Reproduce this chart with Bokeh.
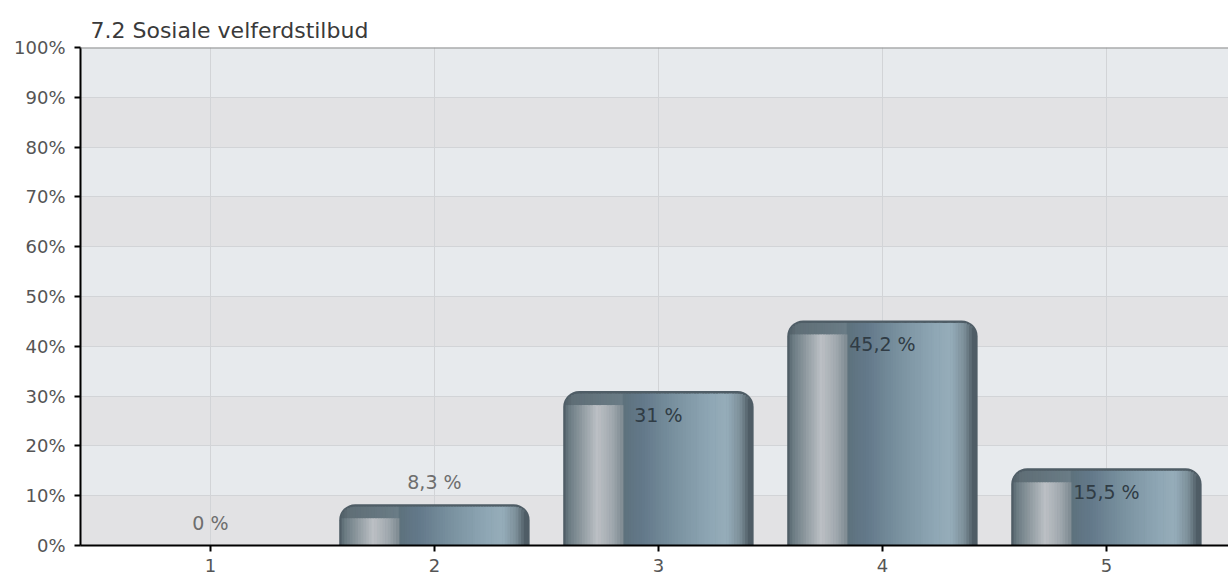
from bokeh.plotting import figure
from bokeh.models import FixedTicker, BoxAnnotation, Span, ColumnDataSource
from bokeh.core.properties import value
from bokeh.embed import file_html
from bokeh.resources import INLINE
import math

# --- data -------------------------------------------------------------
categories = ["1", "2", "3", "4", "5"]
shares = [0.0, 8.3, 31.0, 45.2, 15.5]
value_labels = ["0 %", "8,3 %", "31 %", "45,2 %", "15,5 %"]
y_ticks = [0, 10, 20, 30, 40, 50, 60, 70, 80, 90, 100]
y_tick_labels = ["0%", "10%", "20%", "30%", "40%", "50%", "60%", "70%", "80%", "90%", "100%"]
title = "7.2 Sosiale velferdstilbud"

# --- layout -----------------------------------------------------------
W, H = 1228, 581
LEFT, TOP, BOTTOM = 80, 47, 36
X0, X1 = 0.42, 5.545
FRAME_W = W - LEFT
FRAME_H = H - TOP - BOTTOM
PX_X = FRAME_W / (X1 - X0)      # pixels per x unit
PX_Y = FRAME_H / 100.0          # pixels per percent
BAR_W = 0.85
RADIUS = 16                     # px
FONT = "DejaVu Sans"

positions = list(range(1, len(categories) + 1))

p = figure(width=W, height=H, x_range=(X0, X1), y_range=(0, 100),
           output_backend="svg", toolbar_location=None,
           min_border_left=LEFT, min_border_right=0,
           min_border_top=TOP, min_border_bottom=BOTTOM)

p.title.text = title
p.title.text_font = FONT
p.title.text_font_size = "22px"
p.title.text_font_style = "normal"
p.title.text_color = "#3a3a3a"
p.title.offset = 10
p.title.standoff = 9

p.background_fill_color = "#e7eaed"
p.border_fill_color = "white"
p.outline_line_color = None

# alternating darker bands between gridlines
for lo, hi in zip(y_ticks[0::2], y_ticks[1::2]):
    p.add_layout(BoxAnnotation(bottom=lo, top=hi, fill_color="#e2e2e4",
                               fill_alpha=1.0, line_color=None, level="image"))

p.xgrid.ticker = FixedTicker(ticks=positions)
p.ygrid.ticker = FixedTicker(ticks=y_ticks)
p.xgrid.grid_line_color = "#d2d4d7"
p.ygrid.grid_line_color = "#d2d4d7"
p.xgrid.grid_line_width = 1
p.ygrid.grid_line_width = 1

# top frame line
p.add_layout(Span(location=100, dimension="width", line_color="#8c8c8c",
                  line_width=2, level="overlay"))

# axes
p.yaxis.ticker = FixedTicker(ticks=y_ticks)
p.yaxis.major_label_overrides = {t: s for t, s in zip(y_ticks, y_tick_labels)}
p.xaxis.ticker = FixedTicker(ticks=positions)
p.xaxis.major_label_overrides = {t: s for t, s in zip(positions, categories)}
for ax in (p.xaxis, p.yaxis):
    ax.axis_line_color = "black"
    ax.axis_line_width = 2
    ax.major_tick_line_color = "black"
    ax.major_tick_line_width = 2
    ax.major_tick_in = 0
    ax.major_tick_out = 6
    ax.minor_tick_line_color = None
    ax.major_label_text_font = FONT
    ax.major_label_text_font_size = "18px"
    ax.major_label_text_color = "#555555"
p.yaxis.major_label_standoff = 9
p.xaxis.major_label_standoff = 7


# --- shaded cylinder bars ----------------------------------------------
def hex_to_rgb(h):
    h = h.lstrip("#")
    return tuple(int(h[i:i + 2], 16) for i in (0, 2, 4))


def gradient(stops, f):
    for (f0, c0), (f1, c1) in zip(stops, stops[1:]):
        if f0 <= f <= f1:
            t = 0 if f1 == f0 else (f - f0) / (f1 - f0)
            a, b = hex_to_rgb(c0), hex_to_rgb(c1)
            r = [round(a[k] + (b[k] - a[k]) * t) for k in range(3)]
            return "#%02x%02x%02x" % tuple(r)
    return stops[-1][1]


SPLIT = 0.31
body_stops = [(0.0, "#4c5a62"), (0.04, "#56666e"), (0.31, "#5d717c"),
              (0.42, "#63798a"), (0.60, "#7b93a1"), (0.77, "#8ea6b4"),
              (0.86, "#96adba"), (0.93, "#7d909a"), (0.98, "#4e5c64"),
              (1.0, "#47555d")]
cap_stops = [(0.0, "#4c5a62"), (0.05, "#5f6e76"), (0.31, "#6a7c86")]
light_stops = [(0.0, "#4c5a62"), (0.03, "#6a7a82"), (0.09, "#8a969c"),
               (0.18, "#bcc0c5"), (0.26, "#a0a8ae"), (0.31, "#808c94")]

N = 70
strip_w = BAR_W / N * 1.25
bar_px = BAR_W * PX_X
cap_px = 14

body = dict(x=[], top=[], color=[])
light = dict(x=[], top=[], color=[])
for pos, v in zip(positions, shares):
    if v <= 0:
        continue
    for i in range(N):
        f = (i + 0.5) / N
        if f < 0.015 or f > 0.985:
            continue
        d = min(f, 1 - f) * bar_px
        dy = 0.0
        if d < RADIUS:
            dy = RADIUS - math.sqrt(RADIUS ** 2 - (RADIUS - d) ** 2)
        x = pos + (f - 0.5) * BAR_W
        top = v - (dy + 2.5) / PX_Y
        if top > 0:
            body["x"].append(x)
            body["top"].append(top)
            body["color"].append(gradient(cap_stops, f) if f < SPLIT
                                 else gradient(body_stops, f))
        if f < SPLIT:
            ltop = v - max(cap_px, dy + 3) / PX_Y
            if ltop > 0:
                light["x"].append(x)
                light["top"].append(ltop)
                light["color"].append(gradient(light_stops, f))

# outer shell of each bar, rounded at the top
p.vbar(x=positions, top=shares, width=BAR_W, bottom=0,
       fill_color="#4f5d66", line_color=None,
       border_radius=(RADIUS, RADIUS, 0, 0))
p.vbar(x="x", top="top", bottom=0, width=strip_w, fill_color="color",
       line_color=None, source=ColumnDataSource(body))
p.vbar(x="x", top="top", bottom=0, width=strip_w, fill_color="color",
       line_color=None, source=ColumnDataSource(light))

# value labels: inside tall bars, above short ones
OFF = 24 / PX_Y
lab = dict(x=[], y=[], text=[], color=[])
for pos, v, t in zip(positions, shares, value_labels):
    inside = v > 12
    lab["x"].append(pos)
    lab["y"].append(v - OFF if inside else v + OFF - 0.4)
    lab["text"].append(t)
    lab["color"].append("#303c45" if inside else "#6e6e6e")
p.text(x="x", y="y", text="text", text_color="color", source=ColumnDataSource(lab),
       text_font=value(FONT), text_font_size="19px",
       text_align="center", text_baseline="middle")

open("out.html", "w").write(file_html(p, INLINE))
